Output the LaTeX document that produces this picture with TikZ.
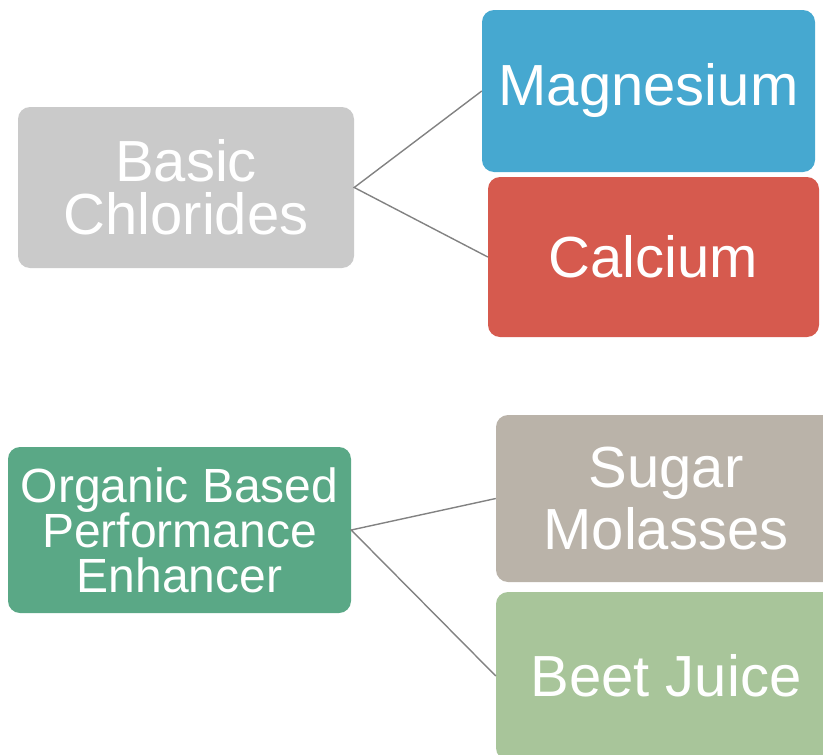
\documentclass[tikz,border=0pt]{standalone}
\usepackage{fontspec}
\setmainfont{Liberation Sans}
\usetikzlibrary{positioning}
\definecolor{ChlorGrey}{RGB}{202,202,202}
\definecolor{MagBlue}{RGB}{70,168,208}
\definecolor{CalRed}{RGB}{214,90,78}
\definecolor{OrgGreen}{RGB}{90,168,134}
\definecolor{SugarTan}{RGB}{186,179,169}
\definecolor{BeetGreen}{RGB}{168,197,154}
\definecolor{LinkGrey}{RGB}{130,130,130}
\tikzset{
  % Riquadri
  box/.style={rounded corners=12pt,inner sep=0pt,align=center,text=white,
    font=\fontsize{58}{58}\selectfont},
  box grey/.style={box,fill=ChlorGrey,minimum width=336pt,minimum height=161pt,
    font=\fontsize{58}{53}\selectfont},
  box blue/.style={box,fill=MagBlue,minimum width=333pt,minimum height=162pt},
  box red/.style={box,fill=CalRed,minimum width=331pt,minimum height=160pt},
  box green/.style={box,fill=OrgGreen,minimum width=343pt,minimum height=166pt,
    font=\fontsize{48}{45}\selectfont},
  box tan/.style={box,fill=SugarTan,minimum width=340pt,minimum height=167pt,
    font=\fontsize{58}{62}\selectfont},
  box light/.style={box,fill=BeetGreen,minimum width=340pt,minimum height=168pt},
  % Collegamenti
  connect/.style={line width=1.4pt,LinkGrey}
}
\begin{document}
\begin{tikzpicture}[x=1pt,y=-1pt]
    \useasboundingbox (0,0) rectangle (823,755);
    \node[box grey] (basic) at (186,187.5) {Basic\\Chlorides};
    \node[box blue] (mag) at (648.5,91) {Magnesium};
    \node[box red] (cal) at (653.5,257) {Calcium};
    \node[box green] (org) at (179.5,530) {Organic Based\\Performance\\Enhancer};
    \node[box tan] (sugar) at (666,498.5) {Sugar\\Molasses};
    \node[box light] (beet) at (666,676) {Beet Juice};
    \draw[connect] (mag.west)--(basic.east)--(cal.west);
    \draw[connect] (sugar.west)--(org.east)--(beet.west);
\end{tikzpicture}
\end{document}
